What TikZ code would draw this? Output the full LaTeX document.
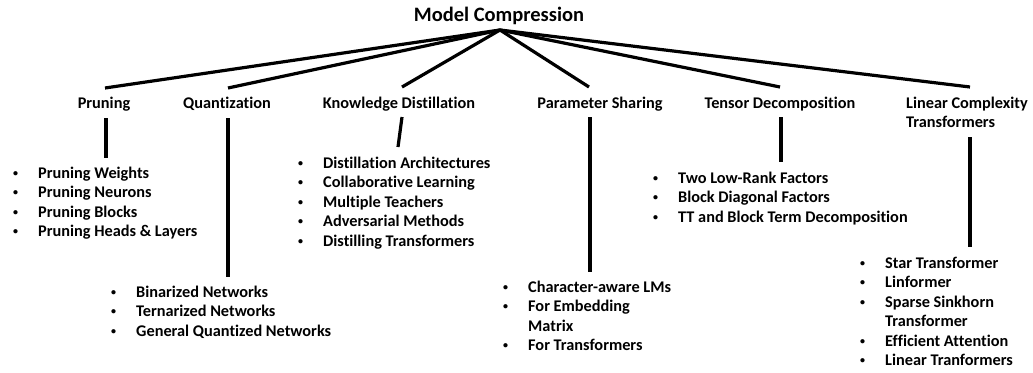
\documentclass[tikz,border=0pt]{standalone}
\usepackage{fontspec}
\setmainfont{Carlito}[Ligatures=CommonOff]
\newcommand{\smbul}{\raisebox{1.6pt}{\fontsize{10}{10}\selectfont\textbullet}}
\newcommand{\itm}[1]{\makebox[26pt][l]{\hspace*{1pt}\smbul}#1}
\newcommand{\cnt}[1]{\hspace*{26pt}#1}
\tikzset{
  conn/.style={line width=3.2pt, line cap=butt},
  lbl/.style={inner sep=0pt, anchor=base, font=\bfseries\fontsize{16.3}{19.5}\selectfont},
  lst/.style={inner sep=0pt, anchor=base west, align=left, font=\bfseries\fontsize{16.3}{19.5}\selectfont},
}
\begin{document}
\begin{tikzpicture}[x=1pt,y=-1pt]
\useasboundingbox (0,0) rectangle (1033,372);
% title
\node[inner sep=0pt, anchor=base, font=\bfseries\fontsize{20.5}{24}\selectfont] (title) at (499,21) {Model Compression};
\coordinate (root) at (500,30);
% category labels
\node[lbl] (prun) at (104,108) {Pruning};
\node[lbl] (quant) at (227,108) {Quantization};
\node[lbl] (kd) at (399,108) {Knowledge Distillation};
\node[lbl] (ps) at (600,108) {Parameter Sharing};
\node[lbl] (td) at (780,108) {Tensor Decomposition};
% multi-line node: base anchor is the last line's baseline
\node[lst] (lct) at (906,127.5) {Linear Complexity\\Transformers};
% top ends of connectors
\coordinate (prunT) at (105,88);
\coordinate (quantT) at (228,88);
\coordinate (kdT) at (402,87);
\coordinate (psT) at (589,87);
\coordinate (tdT) at (780,87);
\coordinate (lctT) at (970,87);
\foreach \c in {prunT,quantT,kdT,psT,tdT,lctT} \draw[conn] (root) -- (\c);
% vertical connector ends
\coordinate (prunA) at (106,118); \coordinate (prunB) at (106,158);
\coordinate (quantA) at (228,118); \coordinate (quantB) at (228,277);
\coordinate (kdA) at (402,117); \coordinate (kdB) at (398,147);
\coordinate (psA) at (590,117); \coordinate (psB) at (590,272);
\coordinate (tdA) at (781,117); \coordinate (tdB) at (781,162);
\coordinate (lctA) at (970,137); \coordinate (lctB) at (970,247);
\draw[conn] (prunA) -- (prunB);
\draw[conn] (quantA) -- (quantB);
\draw[conn] (kdA) -- (kdB);
\draw[conn] (psA) -- (psB);
\draw[conn] (tdA) -- (tdB);
\draw[conn] (lctA) -- (lctB);
% lists (positioned by the baseline of their last line)
\node[lst] (prunL) at (12,236.5) {\itm{Pruning Weights}\\\itm{Pruning Neurons}\\\itm{Pruning Blocks}\\\itm{Pruning Heads \& Layers}};
\node[lst] (quantL) at (110,336) {\itm{Binarized Networks}\\\itm{Ternarized Networks}\\\itm{General Quantized Networks}};
\node[lst] (kdL) at (297,246) {\itm{Distillation Architectures}\\\itm{Collaborative Learning}\\\itm{Multiple Teachers}\\\itm{Adversarial Methods}\\\itm{Distilling Transformers}};
\node[lst] (psL) at (502,350.5) {\itm{Character-aware LMs}\\\itm{For Embedding}\\\cnt{Matrix}\\\itm{For Transformers}};
\node[lst] (tdL) at (652,222) {\itm{Two Low-Rank Factors}\\\itm{Block Diagonal Factors}\\\itm{TT and Block Term Decomposition}};
\node[lst] (lctL) at (859,365.5) {\itm{Star Transformer}\\\itm{Linformer}\\\itm{Sparse Sinkhorn}\\\cnt{Transformer}\\\itm{Efficient Attention}\\\itm{Linear Tranformers}};
\end{tikzpicture}
\end{document}
